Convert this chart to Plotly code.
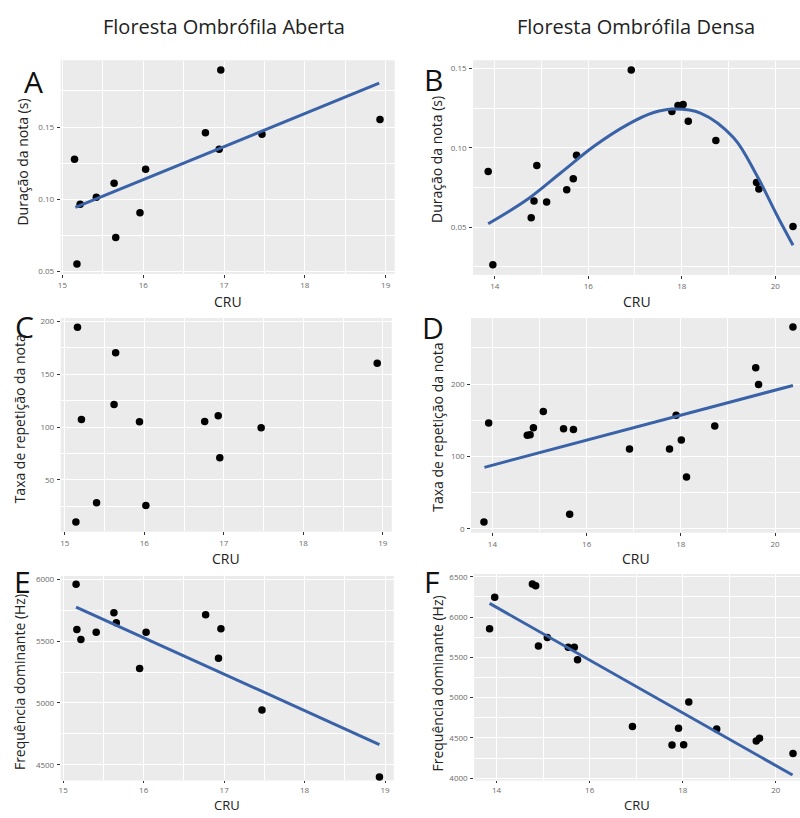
import plotly.graph_objects as go

W, H = 800, 818

# ---------------- data ----------------
a_x = [15.15, 15.18, 15.22, 15.42, 15.64, 15.66, 15.96, 16.03, 16.77, 16.94, 16.96, 17.47, 18.93]
a_y = [0.1278, 0.0553, 0.0966, 0.1014, 0.1112, 0.0736, 0.0907, 0.1208, 0.1461, 0.1347, 0.1894, 0.1450, 0.1552]
a_fit_x = [15.16, 18.92]
a_fit_y = [0.0944, 0.1803]

b_x = [13.86, 13.96, 14.78, 14.84, 14.90, 15.11, 15.54, 15.68, 15.75, 16.92, 17.79, 17.92, 18.03, 18.14, 18.73, 19.60, 19.65, 20.38]
b_y = [0.0850, 0.0262, 0.0558, 0.0665, 0.0888, 0.0658, 0.0735, 0.0804, 0.0952, 0.1490, 0.1229, 0.1267, 0.1273, 0.1167, 0.1046, 0.0781, 0.0740, 0.0504]
b_fit_x = [13.86, 14.71, 15.42, 16.13, 16.84, 17.40, 17.84, 18.40, 19.11, 19.61, 20.04, 20.38]
b_fit_y = [0.0521, 0.0677, 0.0844, 0.1011, 0.1146, 0.1222, 0.1244, 0.1219, 0.1063, 0.0823, 0.0573, 0.0386]

c_x = [15.16, 15.64, 15.62, 15.21, 15.94, 16.76, 16.93, 16.95, 17.47, 18.93, 15.40, 16.02, 15.14]
c_y = [194.4, 170.3, 121.3, 107.2, 105.0, 105.3, 110.6, 70.9, 99.4, 160.3, 28.4, 25.9, 10.3]

d_x = [13.82, 13.92, 14.74, 14.80, 14.87, 15.08, 15.51, 15.72, 15.64, 16.91, 17.76, 17.90, 18.01, 18.12, 18.72, 19.59, 19.65, 20.38]
d_y = [9.6, 146.1, 129.2, 130.1, 139.7, 162.1, 138.4, 137.4, 20.1, 110.5, 110.5, 157.1, 122.8, 71.7, 142.0, 222.8, 199.5, 279.0]
d_fit_x = [13.83, 20.38]
d_fit_y = [85.0, 198.2]

e_x = [15.16, 15.17, 15.22, 15.41, 15.63, 15.66, 16.03, 15.95, 16.77, 16.96, 16.93, 17.47, 18.93]
e_y = [5960, 5595, 5513, 5571, 5730, 5648, 5571, 5278, 5714, 5600, 5362, 4944, 4402]
e_fit_x = [15.16, 18.93]
e_fit_y = [5775, 4664]

f_x = [13.85, 13.96, 14.77, 14.84, 14.90, 15.09, 15.54, 15.67, 15.74, 16.92, 17.77, 17.91, 18.02, 18.13, 18.73, 19.58, 19.65, 20.37]
f_y = [5854, 6246, 6411, 6387, 5640, 5745, 5624, 5624, 5470, 4642, 4412, 4622, 4416, 4945, 4610, 4464, 4497, 4307]
f_fit_x = [13.85, 20.36]
f_fit_y = [6169, 4040]

col_titles = ["Floresta Ombrófila Aberta", "Floresta Ombrófila Densa"]
panel_letters = ["A", "B", "C", "D", "E", "F"]
y_titles = ["Duração da nota (s)", "Duração da nota (s)",
            "Taxa de repetição da nota", "Taxa de repetição da nota",
            "Frequência dominante (Hz)", "Frequência dominante (Hz)"]
x_title = "CRU"

# ---------------- layout helpers ----------------
def px_x(p):
    return p / W

def px_y(p):
    return 1 - p / H

BG = "#EBEBEB"
LINE = "#3A62A7"
TICKFONT = dict(family="Open Sans", size=8, color="#6a6a6a")

panels = [
    dict(box=(58, 393, 57, 272), xr=[14.98, 19.11], yr=[0.0486, 0.196], xt=(15, 1, 0.5), yt=(0.05, 0.05, 0.025), yf=".2f",
         pts=(a_x, a_y), fit=(a_fit_x, a_fit_y), shape="linear"),
    dict(box=(472, 800, 57, 273), xr=[13.54, 20.53], yr=[0.020, 0.155], xt=(14, 2, 1), yt=(0.05, 0.05, 0.025), yf=".2f",
         pts=(b_x, b_y), fit=(b_fit_x, b_fit_y), shape="spline"),
    dict(box=(58, 390, 317, 532), xr=[14.95, 19.11], yr=[1.25, 202.8], xt=(15, 1, 0.5), yt=(0, 50, 25), yf="d",
         pts=(c_x, c_y), fit=None, shape="linear"),
    dict(box=(470, 800, 317, 533), xr=[13.55, 20.53], yr=[-5, 291], xt=(14, 2, 1), yt=(0, 100, 50), yf="d",
         pts=(d_x, d_y), fit=(d_fit_x, d_fit_y), shape="linear"),
    dict(box=(58, 392, 577, 783), xr=[14.97, 19.105], yr=[4375, 6026], xt=(15, 1, 0.5), yt=(4500, 500, 250), yf="d",
         pts=(e_x, e_y), fit=(e_fit_x, e_fit_y), shape="linear"),
    dict(box=(473, 800, 575, 783), xr=[13.52, 20.52], yr=[3975, 6533], xt=(14, 2, 1), yt=(4000, 500, 250), yf="d",
         pts=(f_x, f_y), fit=(f_fit_x, f_fit_y), shape="linear"),
]

letter_pos = [(31, 78), (432, 76), (22, 325), (432, 326), (20, 582), (430, 582)]
ytitle_pos = [(20, 159), (435, 157), (16, 418), (436, 427), (16, 684), (436, 685)]
xtitle_y = [300, 300, 559, 559, None, None]
x_standoff = [1, 1, 1, 1, 0, 0]
x_ticklen = [3, 3, 3, 3, 2, 2]

fig = go.Figure()
layout = dict(width=W, height=H, margin=dict(l=0, r=0, t=0, b=0),
              paper_bgcolor="white", plot_bgcolor=BG, showlegend=False)
annotations = []
shapes = []

for i, p in enumerate(panels):
    n = "" if i == 0 else str(i + 1)
    l, r, t, b = p["box"]
    xa = "xaxis" + n
    ya = "yaxis" + n
    xref = "x" + n
    yref = "y" + n
    shapes.append(dict(type="rect", xref="paper", yref="paper", x0=px_x(l), x1=px_x(r),
                       y0=px_y(b), y1=px_y(t), fillcolor=BG, line=dict(width=0), layer="below"))
    layout[xa] = dict(domain=[px_x(l), px_x(r)], range=p["xr"], anchor=yref,
                      tickmode="linear", tick0=p["xt"][0], dtick=p["xt"][1],
                      showgrid=True, gridcolor="white", gridwidth=1.4,
                      minor=dict(tick0=p["xt"][0], dtick=p["xt"][2], showgrid=True, gridcolor="white", gridwidth=0.6),
                      zeroline=False, showline=False, ticks="outside", ticklen=x_ticklen[i], tickwidth=1,
                      tickcolor="#333333", tickfont=TICKFONT, ticklabelstandoff=x_standoff[i])
    layout[ya] = dict(domain=[px_y(b), px_y(t)], range=p["yr"], anchor=xref,
                      tickmode="linear", tick0=p["yt"][0], dtick=p["yt"][1], tickformat=p["yf"],
                      showgrid=True, gridcolor="white", gridwidth=1.4,
                      minor=dict(tick0=p["yt"][0], dtick=p["yt"][2], showgrid=True, gridcolor="white", gridwidth=0.6),
                      zeroline=False, showline=False, ticks="outside", ticklen=3, tickwidth=1,
                      tickcolor="#333333", tickfont=TICKFONT, ticklabelstandoff=1)
    px_, py_ = p["pts"]
    fig.add_trace(go.Scatter(x=px_, y=py_, mode="markers", xaxis=xref, yaxis=yref,
                             marker=dict(color="black", size=7.5, line=dict(width=0)),
                             cliponaxis=False))
    if p["fit"] is not None:
        fx, fy = p["fit"]
        fig.add_trace(go.Scatter(x=fx, y=fy, mode="lines", xaxis=xref, yaxis=yref,
                                 line=dict(color=LINE, width=3, shape=p["shape"], smoothing=1.0)))
    lx, ly = letter_pos[i]
    annotations.append(dict(text=panel_letters[i], x=px_x(lx), y=px_y(ly), xref="paper", yref="paper",
                            showarrow=False, xanchor="center", yanchor="middle",
                            font=dict(family="Open Sans", size=30, color="#111111")))
    tx, ty = ytitle_pos[i]
    annotations.append(dict(text=y_titles[i], x=px_x(tx), y=px_y(ty), xref="paper", yref="paper",
                            showarrow=False, xanchor="center", yanchor="middle", textangle=-90,
                            font=dict(family="Open Sans", size=14, color="#222222")))
    if xtitle_y[i] is None:
        annotations.append(dict(text=x_title, x=px_x((l + r) / 2), y=0, xref="paper", yref="paper",
                                showarrow=False, xanchor="center", yanchor="bottom", borderpad=0,
                                font=dict(family="Open Sans", size=13, color="#222222")))
    else:
        annotations.append(dict(text=x_title, x=px_x((l + r) / 2), y=px_y(xtitle_y[i]), xref="paper", yref="paper",
                                showarrow=False, xanchor="center", yanchor="middle",
                                font=dict(family="Open Sans", size=14, color="#222222")))

annotations.append(dict(text=col_titles[0], x=px_x(222), y=px_y(23), xref="paper", yref="paper",
                        showarrow=False, xanchor="center", yanchor="middle",
                        font=dict(family="Open Sans", size=20, color="#222222")))
annotations.append(dict(text=col_titles[1], x=px_x(635), y=px_y(23), xref="paper", yref="paper",
                        showarrow=False, xanchor="center", yanchor="middle",
                        font=dict(family="Open Sans", size=20, color="#222222")))

layout["annotations"] = annotations
layout["shapes"] = shapes
fig.update_layout(**layout)
fig.write_html("out.html")
